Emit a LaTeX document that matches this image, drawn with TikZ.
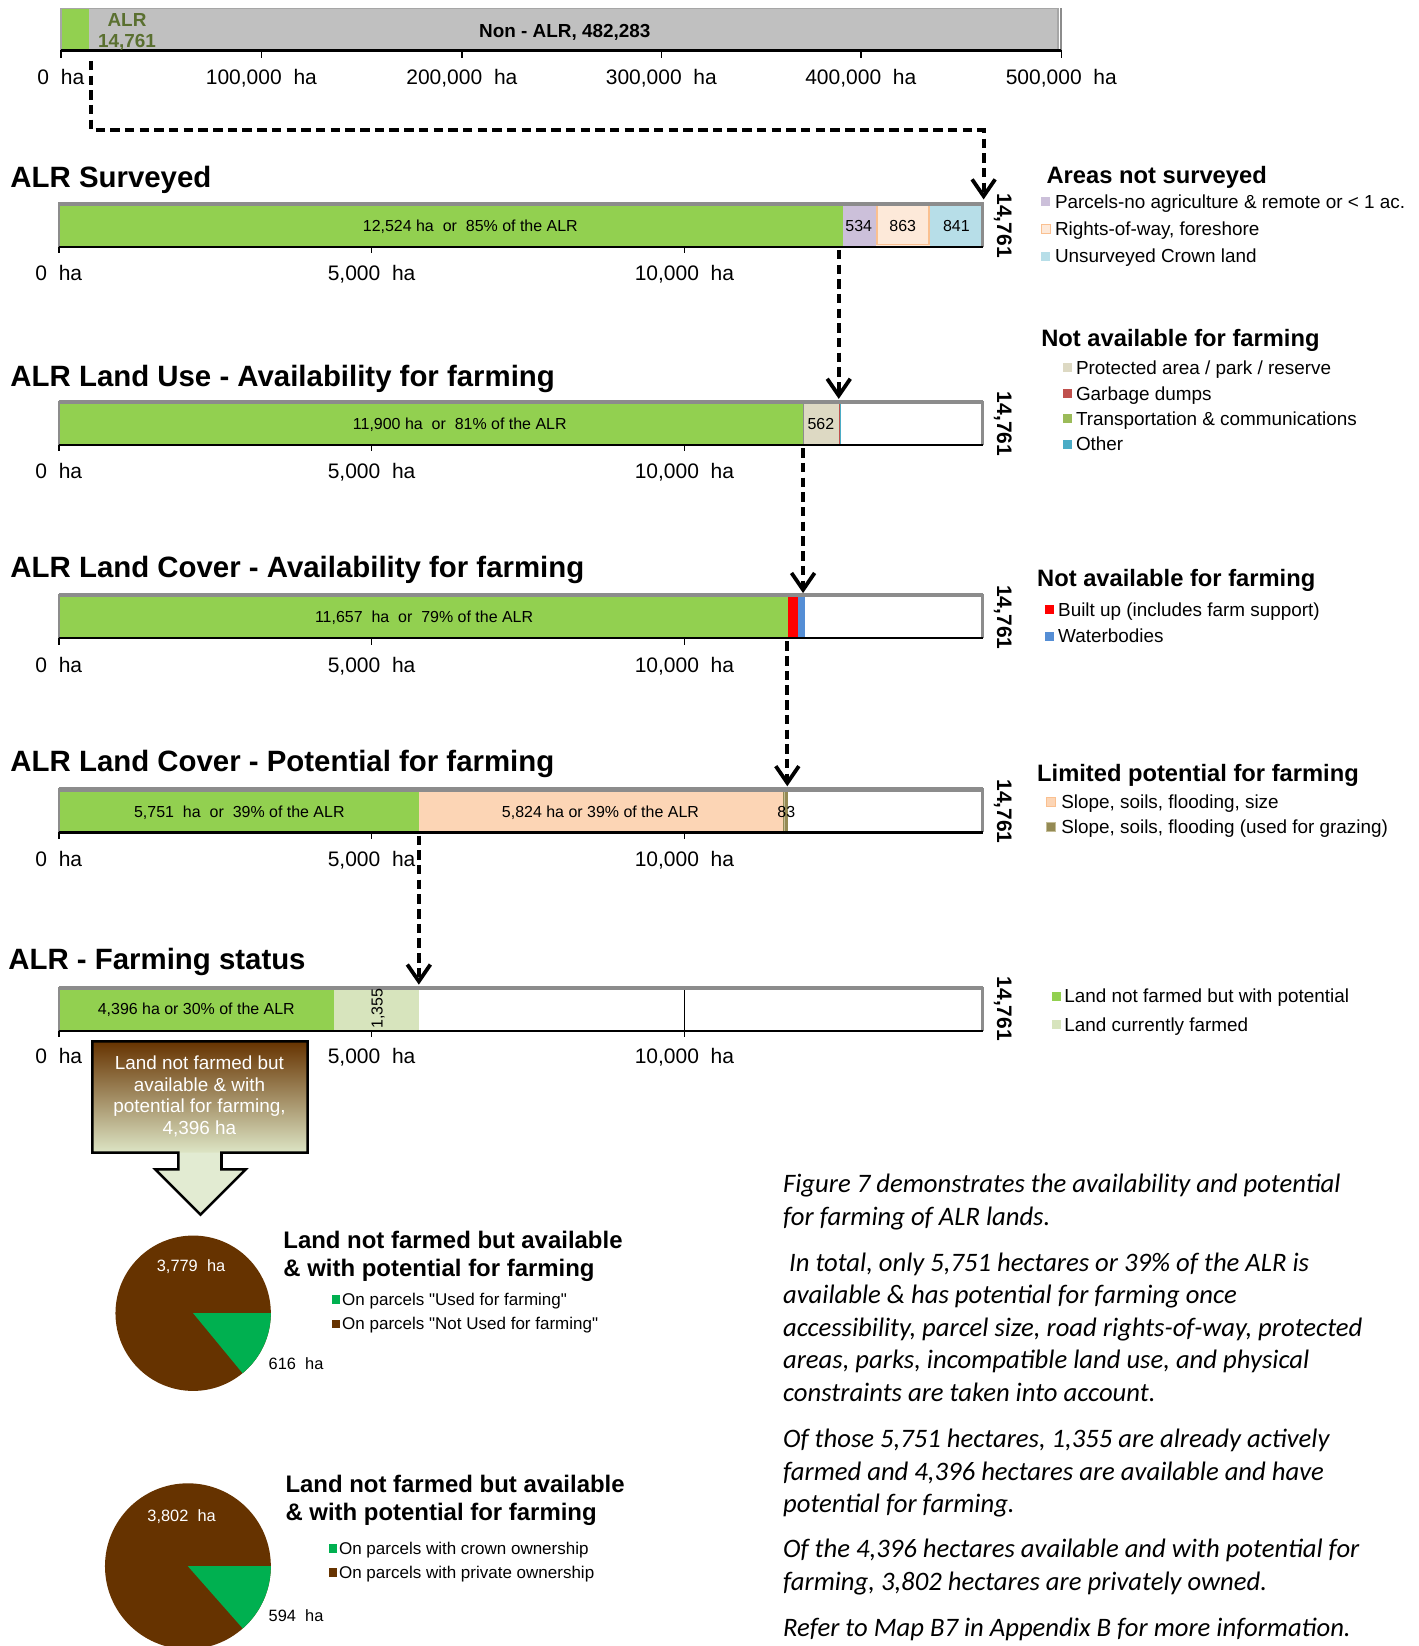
\documentclass[tikz,border=0pt]{standalone}
\usepackage{fontspec}
\setmainfont{Liberation Sans}
\newfontfamily\rawsans{Liberation Sans}
\newfontfamily\calibfont{Carlito}
\usetikzlibrary{arrows.meta}
\definecolor{bargreen}{HTML}{92D050}
\definecolor{topgray}{HTML}{C0C0C0}
\definecolor{framegray}{HTML}{8C8C8C}
\definecolor{lav}{HTML}{CCC0DA}
\definecolor{peachl}{HTML}{FDE9D9}
\definecolor{peachb}{HTML}{FAC090}
\definecolor{lblue}{HTML}{B7DEE8}
\definecolor{tan}{HTML}{DDD9C3}
\definecolor{garb}{HTML}{C0504D}
\definecolor{trans}{HTML}{9BBB59}
\definecolor{other}{HTML}{4BACC6}
\definecolor{builtred}{HTML}{FF0000}
\definecolor{water}{HTML}{558ED5}
\definecolor{peach}{HTML}{FCD5B5}
\definecolor{olivec}{HTML}{948A54}
\definecolor{oliveb}{HTML}{C4BD97}
\definecolor{farmed}{HTML}{D7E4BD}
\definecolor{piebrown}{HTML}{663300}
\definecolor{piegreen}{HTML}{00B050}
\definecolor{callbot}{HTML}{DDE5C5}
\definecolor{arrowfill}{HTML}{E2EBD2}
\definecolor{alrtext}{HTML}{5A7030}
\newcommand\legit[6]{%
  \node[sq, #5] (#1sq) at (#2,#4) {};
  \node[lt] (#1) at (#3,#4) {#6};}
\newcommand\gap{\hspace{0.56em}}
\newcommand\dq{{\rawsans"}}
\begin{document}
\begin{tikzpicture}[x=0.5pt,y=-0.5pt,
  every node/.style={inner sep=0pt, outer sep=0pt},
  hd/.style={anchor=west, font=\bfseries\fontsize{14}{16}\selectfont, text height=10pt, text depth=0pt},
  lh/.style={anchor=west, font=\bfseries\fontsize{11.3}{13}\selectfont, text height=8.1pt, text depth=0pt},
  lt/.style={anchor=west, font=\fontsize{9}{11}\selectfont, text height=6.45pt, text depth=0pt},
  ax/.style={font=\fontsize{10}{12}\selectfont, text height=7.2pt, text depth=0pt},
  bt/.style={font=\fontsize{7.6}{9}\selectfont, text height=5.45pt, text depth=0pt},
  tot/.style={font=\bfseries\fontsize{10}{12}\selectfont, text height=7.2pt, text depth=0pt, rotate=-90},
  sq/.style={minimum width=4.3pt, minimum height=4.3pt, anchor=west},
  ptl/.style={anchor=west, font=\bfseries\fontsize{11.4}{13}\selectfont, text height=8.2pt, text depth=0pt},
  pll/.style={anchor=west, font=\fontsize{8.1}{10}\selectfont, text height=5.8pt, text depth=0pt},
  pv/.style={font=\fontsize{7.8}{10}\selectfont, text height=5.6pt, text depth=0pt},
  para/.style={anchor=west, font=\calibfont\itshape\fontsize{12.7}{15}\selectfont, text height=8pt, text depth=0pt},
  ctext/.style={font=\fontsize{9}{11}\selectfont, text height=6.45pt, text depth=0pt, text=white},
  flow/.style={line width=2pt, dash pattern=on 4.5pt off 2.5pt, -{Straight Barb[length=8pt,width=11pt,line width=1.8pt]}},
  barframe/.style={draw=framegray, line width=1.1pt},
  topedge/.style={draw=framegray, line width=2pt},
  axline/.style={draw=black, line width=1.1pt},
  tick/.style={draw=black, line width=0.7pt}
]
\useasboundingbox (0,0) rectangle (1351,1568);
\clip (0,0) rectangle (1351,1568);

% ---------------- top bar ----------------
\fill[topgray] (58,8) rectangle (1008,48);
\fill[bargreen] (58,8) rectangle (85,48);
\draw[draw=gray!70, line width=0.8pt] (58,48) -- (58,8) -- (1008,8) -- (1008,48);
\draw[draw=framegray, line width=0.8pt] (1011,8) -- (1011,48);
\draw[axline] (58,48) -- (1011,48);
\foreach \xx in {58,249,440,630,820,1011} \draw[tick] (\xx,48) -- (\xx,55);
\node[font=\bfseries\fontsize{9}{11}\selectfont, text=alrtext, text height=6.45pt, text depth=0pt] (alrA) at (121,19) {ALR};
\node[font=\bfseries\fontsize{9}{11}\selectfont, text=alrtext, text height=6.45pt, text depth=0pt] (alrB) at (121,39) {14,761};
\node[font=\bfseries\fontsize{9}{11}\selectfont, text height=6.45pt, text depth=0pt] (nonalr) at (538,29) {Non - ALR, 482,283};
\node[ax] (t0) at (58,73) {0\gap ha};
\node[ax] (t1) at (249,73) {100,000\gap ha};
\node[ax] (t2) at (440,73) {200,000\gap ha};
\node[ax] (t3) at (630,73) {300,000\gap ha};
\node[ax] (t4) at (820,73) {400,000\gap ha};
\node[ax] (t5) at (1011,73) {500,000\gap ha};

% ---------------- section 1: surveyed ----------------
\node[hd] (h1) at (10,169) {ALR Surveyed};
\fill[bargreen] (56,194) rectangle (802.7,235);
\fill[lav] (802.7,194) rectangle (834.5,235);
\fill[peachl] (834.5,194) rectangle (886,235);
\draw[peachb, line width=0.6pt] (835.5,196) rectangle (885,233);
\fill[lblue] (886,194) rectangle (936,235);
\draw[barframe] (56,235) -- (56,194) -- (936,194) -- (936,235);
\draw[topedge] (56,194) -- (936,194);
\draw[axline] (56,235) -- (936,235);
\foreach \xx in {56,354,652} \draw[tick] (\xx,235) -- (\xx,241);
\node[bt] (b1a) at (448,215) {12,524 ha\gap or\gap 85\% of the ALR};
\node[bt] (b1b) at (818,215) {534};
\node[bt] (b1c) at (860,215) {863};
\node[bt] (b1d) at (911,215) {841};
\node[tot] (tot1) at (957,215) {14,761};
\node[ax] (a1a) at (56,260) {0\gap ha};
\node[ax] (a1b) at (354,260) {5,000\gap ha};
\node[ax] (a1c) at (652,260) {10,000\gap ha};
\node[lh] (l1) at (997,167) {Areas not surveyed};
\legit{l1a}{992}{1005}{192}{fill=lav}{Parcels-no agriculture \& remote or < 1 ac.}
\legit{l1b}{992}{1005}{218}{fill=peachl, draw=peachb, line width=0.5pt}{Rights-of-way, foreshore}
\legit{l1c}{992}{1005}{244}{fill=lblue}{Unsurveyed Crown land}

% ---------------- section 2: land use ----------------
\node[hd] (h2) at (10,358) {ALR Land Use - Availability for farming};
\fill[bargreen] (56,383) rectangle (765.5,424);
\fill[tan] (765.5,383) rectangle (799,424);
\fill[garb] (799,383) rectangle (800,424);
\fill[other] (800.4,383) rectangle (801.6,424);
\draw[framegray, line width=0.4pt] (765.5,383) -- (765.5,424);
\draw[barframe] (56,424) -- (56,383) -- (936,383) -- (936,424);
\draw[topedge] (56,383) -- (936,383);
\draw[axline] (56,424) -- (936,424);
\foreach \xx in {56,354,652} \draw[tick] (\xx,424) -- (\xx,430);
\node[bt] (b2a) at (438,404) {11,900 ha\gap or\gap 81\% of the ALR};
\node[bt] (b2b) at (782,404) {562};
\node[tot] (tot2) at (957,404) {14,761};
\node[ax] (a2a) at (56,449) {0\gap ha};
\node[ax] (a2b) at (354,449) {5,000\gap ha};
\node[ax] (a2c) at (652,449) {10,000\gap ha};
\node[lh] (l2) at (992,322) {Not available for farming};
\legit{l2a}{1013}{1025}{350}{fill=tan}{Protected area / park / reserve}
\legit{l2b}{1013}{1025}{375}{fill=garb}{Garbage dumps}
\legit{l2c}{1013}{1025}{399}{fill=trans}{Transportation \& communications}
\legit{l2d}{1013}{1025}{423}{fill=other}{Other}

% ---------------- section 3: land cover availability ----------------
\node[hd] (h3) at (10,540) {ALR Land Cover - Availability for farming};
\fill[bargreen] (56,567) rectangle (751,608);
\fill[builtred] (751,567) rectangle (760,608);
\fill[water] (760,567) rectangle (767,608);
\draw[barframe] (56,608) -- (56,567) -- (936,567) -- (936,608);
\draw[topedge] (56,567) -- (936,567);
\draw[axline] (56,608) -- (936,608);
\foreach \xx in {56,354,652} \draw[tick] (\xx,608) -- (\xx,614);
\node[bt] (b3a) at (404,588) {11,657\gap ha\gap or\gap 79\% of the ALR};
\node[tot] (tot3) at (957,588) {14,761};
\node[ax] (a3a) at (56,633) {0\gap ha};
\node[ax] (a3b) at (354,633) {5,000\gap ha};
\node[ax] (a3c) at (652,633) {10,000\gap ha};
\node[lh] (l3) at (988,551) {Not available for farming};
\legit{l3a}{995}{1008}{581}{fill=builtred}{Built up (includes farm support)}
\legit{l3b}{995}{1008}{606}{fill=water}{Waterbodies}

% ---------------- section 4: land cover potential ----------------
\node[hd] (h4) at (10,725) {ALR Land Cover - Potential for farming};
\fill[bargreen] (56,752) rectangle (399,793);
\fill[peach] (399,752) rectangle (746,793);
\fill[olivec] (746,752) rectangle (751,793);
\draw[oliveb, line width=0.5pt] (747,753) -- (747,792);
\draw[barframe] (56,793) -- (56,752) -- (936,752) -- (936,793);
\draw[topedge] (56,752) -- (936,752);
\draw[axline] (56,793) -- (936,793);
\foreach \xx in {56,354,652} \draw[tick] (\xx,793) -- (\xx,799);
\node[bt] (b4a) at (228,773) {5,751\gap ha\gap or\gap 39\% of the ALR};
\node[bt] (b4b) at (572,773) {5,824 ha or 39\% of the ALR};
\node[bt] (b4c) at (749,773) {83};
\node[tot] (tot4) at (957,773) {14,761};
\node[ax] (a4a) at (56,818) {0\gap ha};
\node[ax] (a4b) at (354,818) {5,000\gap ha};
\node[ax] (a4c) at (652,818) {10,000\gap ha};
\node[lh] (l4) at (988,736) {Limited potential for farming};
\legit{l4a}{997}{1011}{764}{fill=peach, draw=peachb, line width=0.5pt}{Slope, soils, flooding, size}
\legit{l4b}{997}{1011}{788}{fill=olivec, draw=oliveb, line width=0.5pt}{Slope, soils, flooding (used for grazing)}

% ---------------- section 5: farming status ----------------
\node[hd] (h5) at (8,914) {ALR - Farming status};
\fill[bargreen] (56,941) rectangle (318,982);
\fill[farmed] (318,941) rectangle (399,982);
\draw[line width=0.7pt] (652,941) -- (652,982);
\draw[barframe] (56,982) -- (56,941) -- (936,941) -- (936,982);
\draw[topedge] (56,941) -- (936,941);
\draw[axline] (56,982) -- (936,982);
\foreach \xx in {56,354,652} \draw[tick] (\xx,982) -- (\xx,988);
\node[bt] (b5a) at (187,961) {4,396 ha or 30\% of the ALR};
\node[bt, rotate=90] (b5b) at (359,961) {1,355};
\node[tot] (tot5) at (957,961) {14,761};
\node[ax] (a5a) at (56,1006) {0\gap ha};
\node[ax] (a5b) at (354,1006) {5,000\gap ha};
\node[ax] (a5c) at (652,1006) {10,000\gap ha};
\legit{l5a}{1002}{1014}{949}{fill=bargreen}{Land not farmed but with potential}
\legit{l5b}{1002}{1014}{976}{fill=farmed}{Land currently farmed}

% ---------------- flow connectors ----------------
\coordinate (c1s) at (87,58);
\coordinate (c1e) at (937,190);
\draw[flow] (c1s) |- (937,124) -- (c1e);
\coordinate (c2s) at (799,238);
\coordinate (c2e) at (799,380);
\draw[flow] (c2s) -- (c2e);
\coordinate (c3s) at (765,427);
\coordinate (c3e) at (765,565);
\draw[flow] (c3s) -- (c3e);
\coordinate (c4s) at (750,611);
\coordinate (c4e) at (750,749);
\draw[flow] (c4s) -- (c4e);
\coordinate (c5s) at (399,796);
\coordinate (c5e) at (399,938);
\draw[flow] (c5s) -- (c5e);

% ---------------- callout ----------------
\shade[top color=piebrown, bottom color=callbot] (88,992) rectangle (293,1098);
\fill[arrowfill] (170,1098) -- (211,1098) -- (211,1114) -- (234,1114) -- (191,1157) -- (148,1114) -- (170,1114) -- cycle;
\draw[line width=1.2pt, line join=miter] (88,992) -- (293,992) -- (293,1098) -- (211,1098) -- (211,1114) -- (234,1114) -- (191,1157) -- (148,1114) -- (170,1114) -- (170,1098) -- (88,1098) -- cycle;
\node[ctext] (co1) at (190,1012) {Land not farmed but};
\node[ctext] (co2) at (190,1033) {available \& with};
\node[ctext] (co3) at (190,1053) {potential for farming,};
\node[ctext] (co4) at (190,1074) {4,396 ha};

% ---------------- pie 1 ----------------
\fill[piebrown] (184,1251) circle[radius=37pt];
\fill[piegreen] (184,1251) -- +(0:37pt) arc[start angle=0, end angle=-50.5, radius=37pt] -- cycle;
\node[pv, text=white] (p1a) at (182,1206) {3,779\gap ha};
\node[pv, anchor=west] (p1b) at (256,1299) {616\gap ha};
\node[ptl] (p1t1) at (270,1181) {Land not farmed but available};
\node[ptl] (p1t2) at (270,1208) {\& with potential for farming};
\node[sq, fill=piegreen, minimum width=4pt, minimum height=4pt] (p1l1sq) at (316,1238) {};
\node[pll] (p1l1) at (326,1238) {On parcels \dq Used for farming\dq};
\node[sq, fill=piebrown, minimum width=4pt, minimum height=4pt] (p1l2sq) at (316,1261) {};
\node[pll] (p1l2) at (326,1261) {On parcels \dq Not Used for farming\dq};

% ---------------- pie 2 ----------------
\fill[piebrown] (179,1492) circle[radius=39.5pt];
\fill[piegreen] (179,1492) -- +(0:39.5pt) arc[start angle=0, end angle=-48.6, radius=39.5pt] -- cycle;
\node[pv, text=white] (p2a) at (173,1444) {3,802\gap ha};
\node[pv, anchor=west] (p2b) at (256,1539) {594\gap ha};
\node[ptl] (p2t1) at (272,1414) {Land not farmed but available};
\node[ptl] (p2t2) at (272,1440) {\& with potential for farming};
\node[sq, fill=piegreen, minimum width=4pt, minimum height=4pt] (p2l1sq) at (313,1475) {};
\node[pll] (p2l1) at (323,1475) {On parcels with crown ownership};
\node[sq, fill=piebrown, minimum width=4pt, minimum height=4pt] (p2l2sq) at (313,1498) {};
\node[pll] (p2l2) at (323,1498) {On parcels with private ownership};

% ---------------- paragraph ----------------
\node[para] (q1) at (746,1128) {Figure 7 demonstrates the availability and potential};
\node[para] (q2) at (746,1159) {for farming of ALR lands.};
\node[para] (q3) at (746,1203) {\ In total, only 5,751 hectares or 39\% of the ALR is};
\node[para] (q4) at (746,1234) {available \& has potential for farming once};
\node[para] (q5) at (746,1265) {accessibility, parcel size, road rights-of-way, protected};
\node[para] (q6) at (746,1296) {areas, parks, incompatible land use, and physical};
\node[para] (q7) at (746,1327) {constraints are taken into account.};
\node[para] (q8) at (746,1371) {Of those 5,751 hectares, 1,355 are already actively};
\node[para] (q9) at (746,1402) {farmed and 4,396 hectares are available and have};
\node[para] (q10) at (746,1433) {potential for farming.};
\node[para] (q11) at (746,1476) {Of the 4,396 hectares available and with potential for};
\node[para] (q12) at (746,1507) {farming, 3,802 hectares are privately owned.};
\node[para] (q13) at (746,1551) {Refer to Map B7 in Appendix B for more information.};
\end{tikzpicture}
\end{document}
